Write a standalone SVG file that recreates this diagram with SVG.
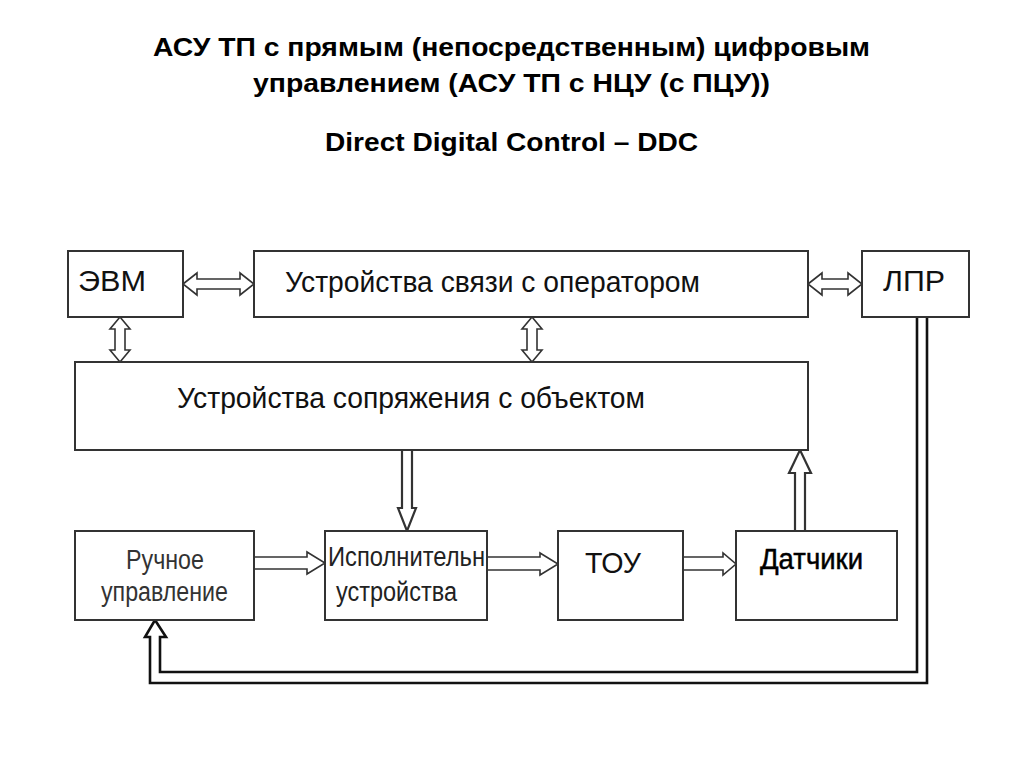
<svg xmlns="http://www.w3.org/2000/svg" width="1024" height="768" viewBox="0 0 1024 768">
<style>
.box{fill:#fff;stroke:#333;stroke-width:2}
.t{font-family:"Liberation Sans",Arial,sans-serif;fill:#111}
.title{font-family:"Liberation Sans",Arial,sans-serif;font-weight:bold;font-size:25px;fill:#000;text-anchor:start}
.arr{fill:#fff;stroke:#333;stroke-width:1.6;stroke-linejoin:miter}
.fb{fill:none;stroke:#111;stroke-width:2.6}
</style>
<rect width="1024" height="768" fill="#fff"/>
<g id="title">
<text class="title" x="153" y="56" textLength="717" lengthAdjust="spacingAndGlyphs">АСУ  ТП с прямым (непосредственным) цифровым</text>
<text class="title" x="253" y="92" textLength="517" lengthAdjust="spacingAndGlyphs">управлением (АСУ  ТП с НЦУ (с ПЦУ))</text>
<text class="title" x="325" y="151" textLength="373" lengthAdjust="spacingAndGlyphs">Direct Digital Control  – DDC</text>
</g>
<g id="connectors">
<polygon class="arr" points="183,284 197,273 197,279 240,279 240,273 254,284 240,295 240,289 197,289 197,295"/>
<polygon class="arr" points="808,284 822,273 822,279 848,279 848,273 862,284 848,295 848,289 822,289 822,295"/>
<polygon class="arr" points="120,317 130,329 125,329 125,350 130,350 120,362 110,350 115,350 115,329 110,329"/>
<polygon class="arr" points="532,317 542,329 537,329 537,350 542,350 532,362 522,350 527,350 527,329 522,329"/>
<polygon class="arr" points="402,450 412,450 412,508 416,508 407,531 398,508 402,508" style="stroke-width:2.2"/>
<polygon class="arr" points="795,531 805,531 805,473 811,473 800,450 789,473 795,473" style="stroke-width:2.2"/>
<polygon class="arr" points="254,557 307,557 307,552 325,563 307,574 307,569 254,569"/>
<polygon class="arr" points="487,557 540,557 540,553 558,564 540,575 540,570 487,570"/>
<polygon class="arr" points="683,557 723,557 723,553 736,564 723,575 723,570 683,570"/>
<path class="fb" d="M927,317 V683 H150 V637 H145 L155,620 L166,637 H160 V672 H917 V317"/>
</g>
<g id="evm">
<rect class="box" x="68" y="251" width="115" height="66"/>
<text class="t" x="78" y="291" font-size="30" textLength="68" lengthAdjust="spacingAndGlyphs">ЭВМ</text>
</g>
<g id="svyaz">
<rect class="box" x="254" y="251" width="554" height="66"/>
<text class="t" x="285" y="292" font-size="30" textLength="415" lengthAdjust="spacingAndGlyphs">Устройства связи с оператором</text>
</g>
<g id="lpr">
<rect class="box" x="862" y="251" width="107" height="66"/>
<text class="t" x="883" y="291" font-size="30" textLength="62" lengthAdjust="spacingAndGlyphs">ЛПР</text>
</g>
<g id="sopryazh">
<rect class="box" x="75" y="362" width="733" height="88"/>
<text class="t" x="177" y="408" font-size="30" textLength="468" lengthAdjust="spacingAndGlyphs">Устройства сопряжения с объектом</text>
</g>
<g id="ruchnoe">
<rect class="box" x="75" y="531" width="179" height="89"/>
<text class="t" x="126" y="569" font-size="27" textLength="78" lengthAdjust="spacingAndGlyphs" style="fill:#333">Ручное</text>
<text class="t" x="101" y="601" font-size="27" textLength="127" lengthAdjust="spacingAndGlyphs" style="fill:#333">управление</text>
</g>
<g id="ispoln">
<rect class="box" x="325" y="531" width="162" height="89"/>
<text class="t" x="328" y="566" font-size="27" textLength="157" lengthAdjust="spacingAndGlyphs" style="fill:#222">Исполнительн</text>
<text class="t" x="336" y="601" font-size="27" textLength="121" lengthAdjust="spacingAndGlyphs" style="fill:#222">устройства</text>
</g>
<g id="tou">
<rect class="box" x="558" y="531" width="125" height="89"/>
<text class="t" x="585" y="573" font-size="30" textLength="56" lengthAdjust="spacingAndGlyphs">ТОУ</text>
</g>
<g id="datchiki">
<rect class="box" x="736" y="531" width="161" height="89"/>
<text class="t" x="760" y="569" font-size="30" textLength="103" lengthAdjust="spacingAndGlyphs" style="fill:#000;stroke:#000;stroke-width:0.5">Датчики</text>
</g>
</svg>
